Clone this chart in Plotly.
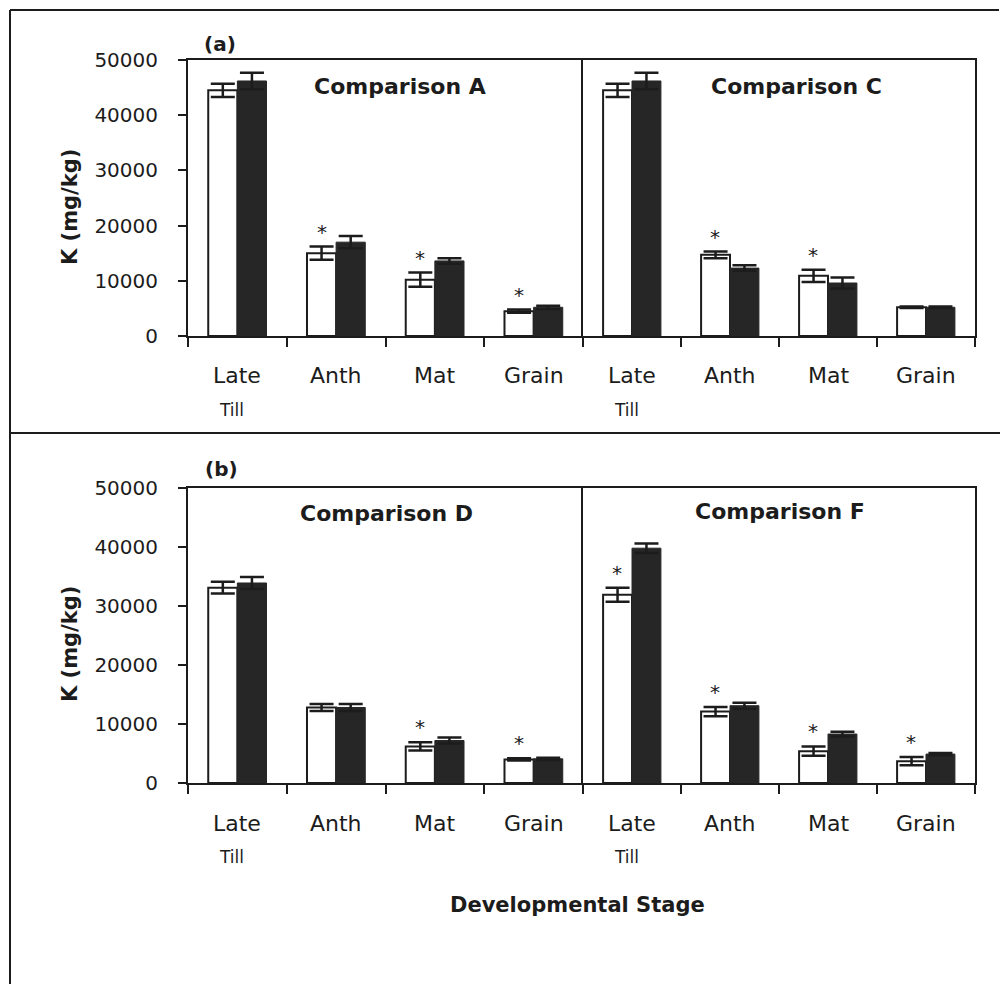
import plotly.graph_objects as go

W, H = 1000, 984

# ---------------- data ----------------
categories = ["Late Till", "Anth", "Mat", "Grain"]
cat_top_labels = ["Late", "Anth", "Mat", "Grain"]
cat_sub_labels = ["Till", "", "", ""]
y_tick_vals = [0, 10000, 20000, 30000, 40000, 50000]
y_tick_labels = ["0", "10000", "20000", "30000", "40000", "50000"]

compA_white = [44500, 15000, 10200, 4500]
compA_white_err = [1200, 1200, 1300, 300]
compA_black = [46200, 17000, 13600, 5200]
compA_black_err = [1500, 1100, 500, 300]
compA_sig = [False, True, True, True]

compC_white = [44500, 14700, 10900, 5200]
compC_white_err = [1200, 600, 1100, 150]
compC_black = [46200, 12300, 9600, 5200]
compC_black_err = [1500, 500, 1000, 150]
compC_sig = [False, True, True, False]

compD_white = [33100, 12800, 6200, 4000]
compD_white_err = [1000, 600, 700, 200]
compD_black = [33900, 12800, 7200, 4100]
compD_black_err = [1000, 600, 500, 200]
compD_sig = [False, False, True, True]

compF_white = [31900, 12100, 5400, 3700]
compF_white_err = [1200, 800, 800, 700]
compF_black = [39800, 13100, 8300, 4900]
compF_black_err = [800, 500, 400, 200]
compF_sig = [True, True, True, True]

panels = [
    ("Comparison A", compA_white, compA_white_err, compA_black, compA_black_err, compA_sig),
    ("Comparison C", compC_white, compC_white_err, compC_black, compC_black_err, compC_sig),
    ("Comparison D", compD_white, compD_white_err, compD_black, compD_black_err, compD_sig),
    ("Comparison F", compF_white, compF_white_err, compF_black, compF_black_err, compF_sig),
]

# ---------------- layout geometry (pixels) ----------------
def px(x):
    return x / W

def py(y):
    return 1 - y / H

x_left, x_mid, x_right = 188, 583, 975
rows_px = [(60, 336), (488, 783)]   # (top = 50000, bottom = 0)
FONT = "DejaVu Sans"
INK = "#1c1c1c"
BLACKBAR = "#262626"

fig = go.Figure()
layout = dict(
    width=W, height=H,
    margin=dict(l=0, r=0, t=0, b=0, pad=0, autoexpand=False),
    paper_bgcolor="white", plot_bgcolor="white",
    showlegend=False,
    barmode="group", bargap=0.41, bargroupgap=0.0,
    font=dict(family=FONT, color=INK),
)
annotations = []
shapes = []

for i, (title, wv, we, bv, be, sig) in enumerate(panels):
    r, c = divmod(i, 2)
    n = i + 1
    xa = "x" if n == 1 else f"x{n}"
    ya = "y" if n == 1 else f"y{n}"
    top_px, bot_px = rows_px[r]
    xdom = [px(x_left), px(x_mid)] if c == 0 else [px(x_mid), px(x_right)]
    ydom = [py(bot_px), py(top_px)]

    fig.add_trace(go.Bar(
        x=categories, y=wv, xaxis=xa, yaxis=ya,
        marker=dict(color="white", line=dict(color=INK, width=2)),
        error_y=dict(type="data", array=we, color=INK, thickness=2.5, width=12),
    ))
    fig.add_trace(go.Bar(
        x=categories, y=bv, xaxis=xa, yaxis=ya,
        marker=dict(color=BLACKBAR, line=dict(color=BLACKBAR, width=1)),
        error_y=dict(type="data", array=be, color=INK, thickness=2.5, width=12),
    ))

    xkey = "xaxis" if n == 1 else f"xaxis{n}"
    ykey = "yaxis" if n == 1 else f"yaxis{n}"
    layout[xkey] = dict(
        domain=xdom, anchor=ya, type="category", categoryorder="array",
        categoryarray=categories, range=[-0.5, 3.5], automargin=False,
        showline=True, linecolor=INK, linewidth=2, mirror=True,
        ticks="outside", tickson="boundaries", ticklen=9, tickwidth=2, tickcolor=INK,
        showticklabels=False, showgrid=False, zeroline=False, fixedrange=True,
    )
    ycfg = dict(
        domain=ydom, anchor=xa, range=[0, 50000], automargin=False,
        showline=True, linecolor=INK, linewidth=2,
        showgrid=False, zeroline=False, fixedrange=True,
    )
    if c == 0:
        ycfg.update(tickvals=y_tick_vals, ticktext=y_tick_labels, ticks="outside",
                    ticklen=8, tickwidth=2, tickcolor=INK, ticklabelstandoff=16,
                    tickfont=dict(family=FONT, size=20, color=INK), mirror=False)
    else:
        ycfg.update(showticklabels=False, ticks="", mirror=True)
    layout[ykey] = ycfg

    # panel title
    title_pos = {0: (400, 86), 1: (796, 86), 2: (386, 513), 3: (780, 511)}[i]
    annotations.append(dict(text=f"<b>{title}</b>", xref="paper", yref="paper",
                            x=px(title_pos[0]), y=py(title_pos[1]),
                            xanchor="center", yanchor="middle", showarrow=False,
                            font=dict(family=FONT, size=22, color=INK)))

    # significance asterisks above white bars
    for cat, v, e, s in zip(categories, wv, we, sig):
        if s:
            annotations.append(dict(text="*", xref=xa, yref=ya, x=cat, y=v + e,
                                    xshift=-14.6, yshift=1, xanchor="center",
                                    yanchor="bottom", showarrow=False,
                                    font=dict(family=FONT, size=20, color=INK)))

    # category labels
    label_y = bot_px + 40
    sub_y = bot_px + 74
    for cat, lab, sub in zip(categories, cat_top_labels, cat_sub_labels):
        annotations.append(dict(text=lab, xref=xa, yref="paper", x=cat, y=py(label_y),
                                xanchor="center", yanchor="middle", showarrow=False,
                                font=dict(family=FONT, size=22, color=INK)))
        if sub:
            annotations.append(dict(text=sub, xref=xa, yref="paper", x=cat, y=py(sub_y),
                                    xshift=-6, xanchor="center", yanchor="middle",
                                    showarrow=False,
                                    font=dict(family=FONT, size=17, color=INK)))

# section labels
annotations.append(dict(text="<b>(a)</b>", xref="paper", yref="paper", x=px(220), y=py(44),
                        xanchor="center", yanchor="middle", showarrow=False,
                        font=dict(family=FONT, size=20, color=INK)))
annotations.append(dict(text="<b>(b)</b>", xref="paper", yref="paper", x=px(221), y=py(469),
                        xanchor="center", yanchor="middle", showarrow=False,
                        font=dict(family=FONT, size=20, color=INK)))
# y-axis titles
for yc in (207, 644):
    annotations.append(dict(text="<b>K (mg/kg)</b>", xref="paper", yref="paper",
                            x=px(70), y=py(yc), textangle=-90,
                            xanchor="center", yanchor="middle", showarrow=False,
                            font=dict(family=FONT, size=21, color=INK)))
# x-axis title
annotations.append(dict(text="<b>Developmental Stage</b>", xref="paper", yref="paper",
                        x=px(577), y=py(905), xanchor="center", yanchor="middle",
                        showarrow=False, font=dict(family=FONT, size=21, color=INK)))

# outer frame lines
line_style = dict(color=INK, width=2)
shapes.append(dict(type="line", xref="paper", yref="paper", x0=px(10), x1=px(999),
                   y0=py(10), y1=py(10), line=line_style))
shapes.append(dict(type="line", xref="paper", yref="paper", x0=px(10), x1=px(10),
                   y0=py(10), y1=py(984), line=line_style))
shapes.append(dict(type="line", xref="paper", yref="paper", x0=px(10), x1=px(1000),
                   y0=py(433), y1=py(433), line=line_style))

layout["annotations"] = annotations
layout["shapes"] = shapes
fig.update_layout(**layout)
fig.write_html("out.html")
